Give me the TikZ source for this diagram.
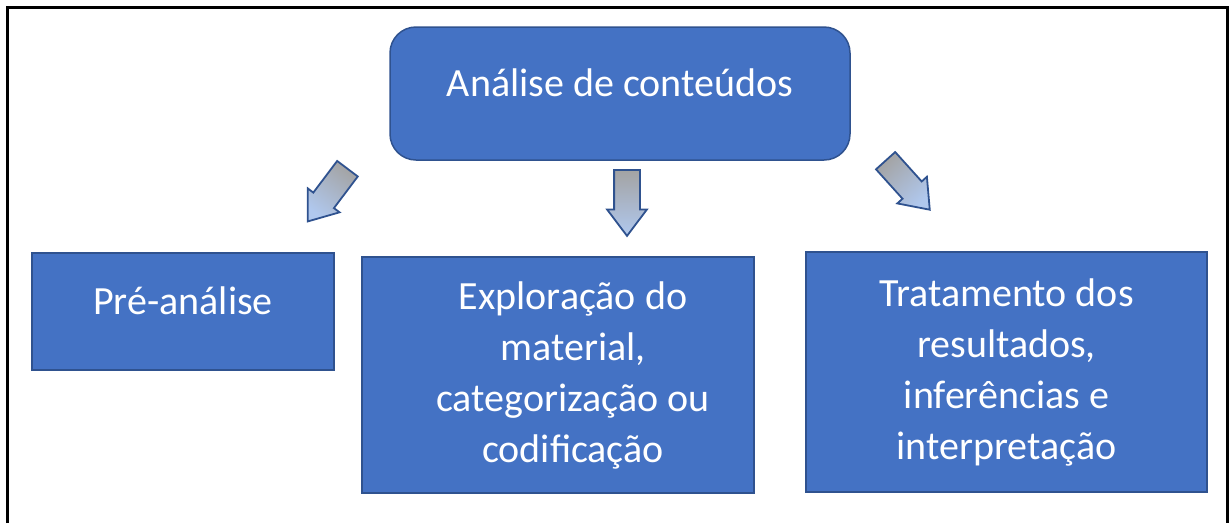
\documentclass[tikz,border=0pt]{standalone}
\usepackage{fontspec}
\setmainfont{Carlito}
\usetikzlibrary{shapes.arrows}
\definecolor{boxblue}{HTML}{4472C4}
\definecolor{boxedge}{HTML}{2F528F}
\definecolor{arrowgray}{HTML}{A3A3A3}
\definecolor{arrowblue}{HTML}{B0C8EE}
\tikzset{
  stagebox/.style={draw=boxedge, line width=1.5pt, fill=boxblue, text=white,
    align=center, inner sep=0pt, font=\fontsize{40}{51}\selectfont},
  stagetext/.style={text=white, align=center, inner sep=0pt,
    font=\fontsize{40}{51}\selectfont},
  flowarrow/.style={single arrow, draw=boxedge, line width=1.8pt, anchor=tail,
    top color=arrowgray, bottom color=arrowblue, shading angle=#1,
    inner xsep=0pt, inner ysep=12pt, minimum height=66pt,
    single arrow head extend=7pt, single arrow tip angle=74,
    single arrow head indent=0pt}
}

\begin{document}
\begin{tikzpicture}[x=1pt, y=-1pt]

\useasboundingbox (0,0) rectangle (1230,523);

% Open frame (no bottom edge)
\draw[line width=3pt] (7,523) -- (7,7) -- (1227,7) -- (1227,523);

% Top box
\node[stagebox, rounded corners=26pt, minimum width=460pt, minimum height=133pt,
  text depth=22pt] (analise) at (620,93.5) {Análise de conteúdos};

% The three stages
\node[stagebox, minimum width=302pt, minimum height=117pt, text depth=22pt]
  (pre) at (183,311.5) {Pré-análise};
\node[stagebox, minimum width=392pt, minimum height=236pt]
  (explor) at (558,375) {};
\node[stagetext] (explortext) at ([xshift=15pt]explor.center)
  {Exploração do\\material,\\categorização ou\\codificação};
\node[stagebox, minimum width=401pt, minimum height=240pt]
  (trat) at (1006.5,372) {Tratamento dos\\resultados,\\inferências e\\interpretação};

% Block arrows, placed by their tails
\node[flowarrow=-37, rotate=-127] (arrowpre) at (348,168) {};
\node[flowarrow=0, rotate=-90] (arrowexplor) at (627,169) {};
\node[flowarrow=42, rotate=-48] (arrowtrat) at (885,160) {};

\end{tikzpicture}
\end{document}
